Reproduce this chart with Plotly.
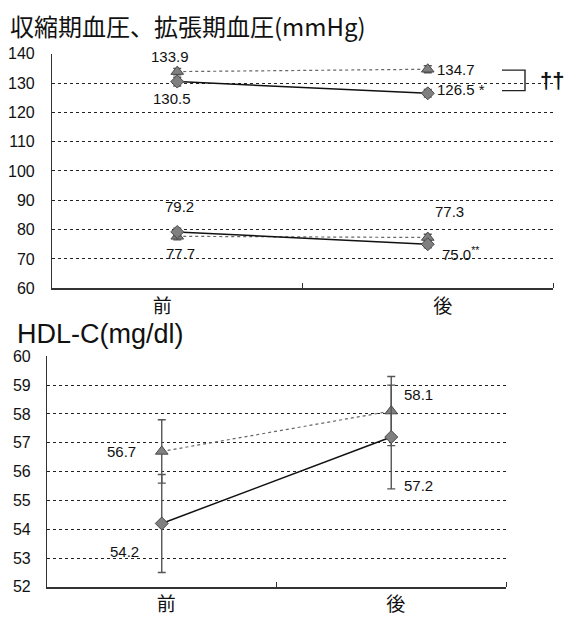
import plotly.graph_objects as go

# ---- data ----
categories = ["前", "後"]

sbp_diamond = [130.5, 126.5]
sbp_diamond_err = [1.5, 1.3]
sbp_triangle = [133.9, 134.7]
sbp_triangle_err = [1.1, 1.2]

dbp_diamond = [79.2, 75.0]
dbp_diamond_err = [1.3, 1.2]
dbp_triangle = [77.7, 77.3]
dbp_triangle_err = [1.2, 1.1]

hdl_diamond = [54.2, 57.2]
hdl_diamond_err = [1.7, 1.8]
hdl_triangle = [56.7, 58.1]
hdl_triangle_err = [1.1, 1.2]

bp_ticks = [60, 70, 80, 90, 100, 110, 120, 130, 140]
hdl_ticks = [52, 53, 54, 55, 56, 57, 58, 59, 60]

# ---- styling ----
W, H = 576, 628
NUM_FONT = "Liberation Sans, Arial, sans-serif"
JP_FONT = "Noto Sans CJK JP, sans-serif"
MARK_FILL = "#808080"
MARK_EDGE = "#4a4a4a"
ERR_COL = "#555555"

xpos = list(range(len(categories)))


def px_x(p):
    return p / W


def px_y(p):
    return 1 - p / H


fig = go.Figure()


def add_series(xa, ya, yvals, errs, symbol, dashed):
    fig.add_trace(go.Scatter(
        x=xpos, y=yvals, xaxis=xa, yaxis=ya,
        mode="lines+markers",
        line=dict(color="#666666" if dashed else "#111111",
                  width=1.2 if dashed else 1.5,
                  dash="dot" if dashed else "solid"),
        marker=dict(symbol=symbol, size=11 if symbol == "triangle-up" else 10,
                    color=MARK_FILL, line=dict(color=MARK_EDGE, width=1)),
        error_y=dict(type="data", array=errs, visible=True,
                     color=ERR_COL, thickness=1.4, width=4),
        showlegend=False, hoverinfo="skip",
    ))


# blood pressure panel
add_series("x", "y", sbp_triangle, sbp_triangle_err, "triangle-up", True)
add_series("x", "y", sbp_diamond, sbp_diamond_err, "diamond", False)
add_series("x", "y", dbp_triangle, dbp_triangle_err, "triangle-up", True)
add_series("x", "y", dbp_diamond, dbp_diamond_err, "diamond", False)

# HDL panel
add_series("x2", "y2", hdl_triangle, hdl_triangle_err, "triangle-up", True)
add_series("x2", "y2", hdl_diamond, hdl_diamond_err, "diamond", False)

grid = dict(showgrid=True, gridcolor="#222222", griddash="dot", gridwidth=1)


def yaxis(domain, rng, ticks, xa, standoff):
    return dict(domain=domain, range=rng, tickvals=ticks, anchor=xa,
                showline=True, linecolor="#333333", linewidth=1.2,
                ticks="", ticklabelstandoff=standoff, zeroline=False,
                tickfont=dict(family=NUM_FONT, size=16, color="#111111"),
                **grid)


def xaxis(domain, ya, label_offset):
    return dict(domain=domain, range=[-0.5, 1.5], anchor=ya,
                tickvals=[p + o for p, o in zip(xpos, label_offset)],
                ticktext=categories, ticks="",
                tickfont=dict(family=JP_FONT, size=19, color="#111111"),
                showline=True, linecolor="#333333", linewidth=1.5,
                showgrid=False, zeroline=False,
                minor=dict(tickvals=[0.5, 1.5], ticks="inside", ticklen=5,
                           tickcolor="#333333", showgrid=False))


fig.update_layout(
    width=W, height=H,
    margin=dict(l=0, r=0, t=0, b=0),
    paper_bgcolor="white", plot_bgcolor="white",
    xaxis=xaxis([px_x(52), px_x(553)], "y", [-0.06, 0.06]),
    yaxis=yaxis([px_y(288), px_y(47)], [60, 140], bp_ticks, "x", 13),
    xaxis2=xaxis([px_x(47), px_x(506)], "y2", [0.02, 0.02]),
    yaxis2=yaxis([px_y(595), px_y(358)], [52, 60], hdl_ticks, "x2", 12),
)

ann = []


def label(xa, ya, x, y, text, xshift, yshift, xanchor="center"):
    ann.append(dict(xref=xa, yref=ya, x=x, y=y, text=text, showarrow=False,
                    xshift=xshift, yshift=yshift, xanchor=xanchor,
                    yanchor="middle",
                    font=dict(family=NUM_FONT, size=15, color="#111111")))


# value labels, blood pressure
label("x", "y", 0, sbp_triangle[0], f"{sbp_triangle[0]:.1f}", -7, 15)
label("x", "y", 0, sbp_diamond[0], f"{sbp_diamond[0]:.1f}", -5, -17)
label("x", "y", 1, sbp_triangle[1], f"{sbp_triangle[1]:.1f}", 7, 0, "left")
label("x", "y", 1, sbp_diamond[1], f"{sbp_diamond[1]:.1f} *", 7, 4, "left")
label("x", "y", 0, dbp_diamond[0], f"{dbp_diamond[0]:.1f}", 2, 25)
label("x", "y", 0, dbp_triangle[0], f"{dbp_triangle[0]:.1f}", 3, -17)
label("x", "y", 1, dbp_triangle[1], f"{dbp_triangle[1]:.1f}", 22, 26)
label("x", "y", 1, dbp_diamond[1],
      f"{dbp_diamond[1]:.1f}<sup>**</sup>", 12, -9, "left")

# value labels, HDL
label("x2", "y2", 0, hdl_triangle[0], f"{hdl_triangle[0]:.1f}", -24, 0, "right")
label("x2", "y2", 0, hdl_diamond[0], f"{hdl_diamond[0]:.1f}", -21, -28, "right")
label("x2", "y2", 1, hdl_triangle[1], f"{hdl_triangle[1]:.1f}", 11, 17, "left")
label("x2", "y2", 1, hdl_diamond[1], f"{hdl_diamond[1]:.1f}", 11, -48, "left")

# panel titles
ann.append(dict(xref="paper", yref="paper", x=px_x(8), y=px_y(38),
                xanchor="left", yanchor="bottom", showarrow=False,
                text="収縮期血圧、拡張期血圧(mmHg)",
                font=dict(family=JP_FONT, size=24, color="#111111")))
ann.append(dict(xref="paper", yref="paper", x=px_x(15), y=px_y(335),
                xanchor="left", yanchor="middle", showarrow=False,
                text="HDL-C(mg/dl)",
                font=dict(family=NUM_FONT, size=27, color="#111111")))

# significance bracket between the two systolic series
br_top, br_bot = 134.4, 127.4
ann.append(dict(xref="paper", yref="y", x=px_x(552), y=(br_top + br_bot) / 2,
                xanchor="center", yanchor="middle", showarrow=False,
                text="<b>††</b>",
                font=dict(family=NUM_FONT, size=22, color="#111111")))

fig.update_layout(annotations=ann)

fig.add_shape(type="path", xref="paper", yref="y",
              path=(f"M {px_x(502)},{br_top} L {px_x(525)},{br_top} "
                    f"L {px_x(525)},{br_bot} L {px_x(502)},{br_bot}"),
              line=dict(color="#222222", width=1.4))

fig.write_html("out.html")
